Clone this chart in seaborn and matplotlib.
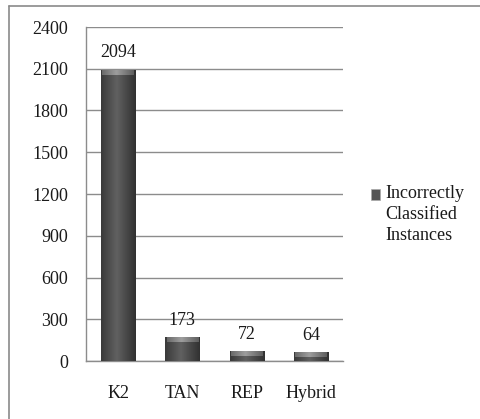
import matplotlib
matplotlib.use("Agg")
import matplotlib.pyplot as plt
import seaborn as sns
import numpy as np
import pandas as pd
from matplotlib.lines import Line2D
from matplotlib.patches import Rectangle

categories = ["K2", "TAN", "REP", "Hybrid"]
values = [2094, 173, 72, 64]
series_name = "Incorrectly\nClassified\nInstances"
yticks = [0, 300, 600, 900, 1200, 1500, 1800, 2100, 2400]

sns.set_theme(style="white")
plt.rcParams['font.family'] = ['Liberation Serif', 'DejaVu Serif']
FS = 13

df = pd.DataFrame({"cat": categories, "val": values})

fig = plt.figure(figsize=(4.8, 4.19), dpi=100)
ax = fig.add_axes([86/480, 1-361/419, (343-86)/480, (361-27)/419])

sns.barplot(data=df, x="cat", y="val", color="#4d4d4d", width=0.53, ax=ax,
            saturation=1, edgecolor="none", zorder=3)

# cylinder-like shading
n = 64
grad = np.linspace(0, 1, n)
shade = np.clip(1 - np.abs(grad - 0.45) * 1.7, 0, 1)
img = np.zeros((1, n, 3))
base_dark = np.array([0.18, 0.18, 0.18])
base_light = np.array([0.38, 0.38, 0.38])
for i in range(n):
    img[0, i] = base_dark + (base_light - base_dark) * shade[i]
cap_img = np.zeros((1, n, 3))
cap_dark = np.array([0.35, 0.35, 0.35])
cap_light = np.array([0.62, 0.62, 0.62])
for i in range(n):
    cap_img[0, i] = cap_dark + (cap_light - cap_dark) * shade[i]
cap_h = 2400 * 5 / 334
for p in ax.patches:
    x0, y0 = p.get_x(), p.get_y()
    w, h = p.get_width(), p.get_height()
    im = ax.imshow(img, extent=[x0, x0 + w, y0, y0 + h], aspect="auto", zorder=4)
    im.set_clip_path(p)
    im2 = ax.imshow(cap_img, extent=[x0 + w*0.04, x0 + w*0.96, y0 + h - cap_h, y0 + h],
                    aspect="auto", zorder=5)

for i, v in enumerate(values):
    ax.text(i, v + 60, str(v), ha="center", va="bottom", fontsize=FS, color="#1a1a1a", zorder=6)

ax.set_ylim(0, 2400)
ax.set_xlim(-0.5, 3.5)
ax.set_yticks(yticks)
ax.set_yticklabels([str(t) for t in yticks], fontsize=FS, color="#1a1a1a")
ax.set_xticks(range(len(categories)))
ax.set_xticklabels(categories, fontsize=FS, color="#1a1a1a")
ax.set_xlabel("")
ax.set_ylabel("")
ax.yaxis.grid(True, color="#8c8c8c", linewidth=1, zorder=0)
ax.set_axisbelow(True)
for s in ["top", "right"]:
    ax.spines[s].set_visible(False)
for s in ["left", "bottom"]:
    ax.spines[s].set_color("#8c8c8c")
    ax.spines[s].set_linewidth(1)

ax.tick_params(axis="y", which="major", length=5, width=1, color="#8c8c8c", pad=8, direction="out")
ax.tick_params(axis="x", which="major", length=0, pad=17)
ax.set_xticks([-0.5, 0.5, 1.5, 2.5, 3.5], minor=True)
ax.tick_params(axis="x", which="minor", length=5, width=1, color="#8c8c8c", direction="out")

# legend
handle = Rectangle((0, 0), 1, 1, facecolor="#555555", edgecolor="#aaaaaa", linewidth=0.5)
leg = fig.legend([handle], [series_name], loc="upper left", bbox_to_anchor=(362/480, 1-176/419),
                 frameon=False, fontsize=FS, handlelength=0.5, handleheight=0.5,
                 handletextpad=0.3, borderpad=0, labelspacing=0)
for t in leg.get_texts():
    t.set_color("#1a1a1a")
    t.set_linespacing(1.3)
ph = leg.legend_handles[0]
ph.set_y(ph.get_y() + 14.5)

# outer frame (top and left edges visible)
fig.add_artist(Line2D([9/480, 9/480], [0, 1-6/419], transform=fig.transFigure, color="#8a8a8a", linewidth=1.2))
fig.add_artist(Line2D([9/480, 1], [1-6/419, 1-6/419], transform=fig.transFigure, color="#8a8a8a", linewidth=1.2))

fig.savefig("out.png", dpi=100)
